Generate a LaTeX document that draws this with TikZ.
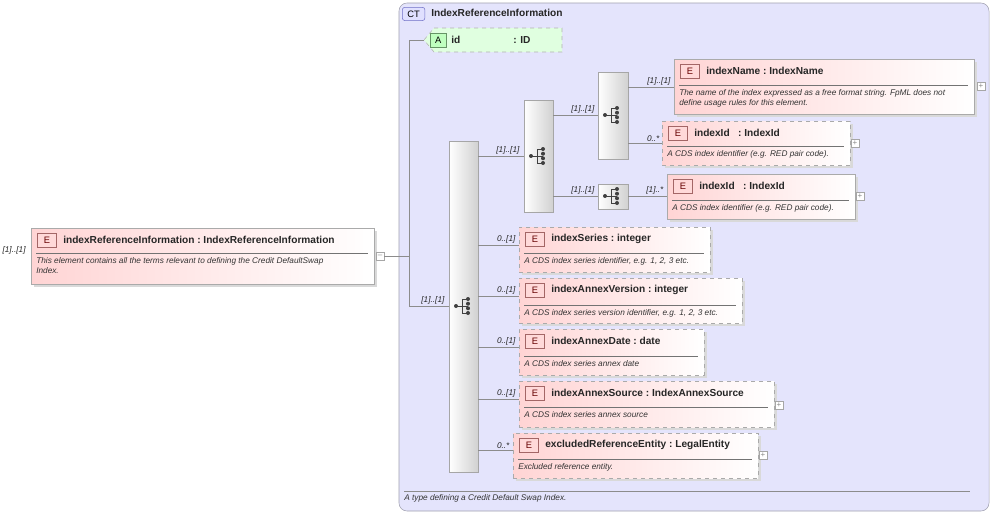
\documentclass[tikz,border=0pt]{standalone}
\usepackage{fontspec}
\setmainfont{Liberation Sans}
\usetikzlibrary{fit,calc}
\definecolor{ctbg}{RGB}{228,228,252}
\definecolor{ctbd}{RGB}{160,160,175}
\definecolor{pinkL}{RGB}{255,212,212}
\definecolor{ebd}{RGB}{170,170,170}
\tikzset{x=0.75pt,y=-0.75pt,
 elem/.style={draw=ebd,left color=pinkL,right color=white,inner sep=0pt},
 opt/.style={elem,dashed},
 badge/.style={draw=red!40!black!60,fill=red!15,text=red!40!black,font=\fontsize{7}{8}\selectfont,minimum width=14.5pt,minimum height=10.5pt,inner sep=0pt,anchor=north west},
 ttl/.style={font=\fontsize{7.6}{8}\bfseries\selectfont,text=black!85,anchor=west,inner sep=0pt},
 dsc/.style={font=\fontsize{6.2}{7.4}\itshape\selectfont,text=black!80,anchor=north west,inner sep=0pt,align=left},
 card/.style={font=\fontsize{6.2}{7}\itshape\selectfont,text=black!85,anchor=south east,inner sep=1pt},
 seq/.style={draw=black!35,left color=white,right color=black!18,inner sep=0pt},
 conn/.style={draw=black!45,line width=0.5pt},
 plusb/.style={draw=black!35,fill=white,minimum size=6pt,inner sep=0pt,font=\fontsize{6}{6}\selectfont,text=black!45}}
\newcommand\seqsym[1]{%
 \fill[black!75] ($(#1)+(-8,0)$) circle (2);
 \draw[black!75,line width=0.7pt] ($(#1)+(-8,0)$)--($(#1)+(-2,0)$) ($(#1)+(-2,-7)$)--($(#1)+(-2,7)$)
   ($(#1)+(-2,-7)$)--($(#1)+(4,-7)$) ($(#1)+(-2,0)$)--($(#1)+(4,0)$) ($(#1)+(-2,7)$)--($(#1)+(4,7)$);
 \foreach \yy in {-7,-2.3,2.3,7}{\fill[black!75] ($(#1)+(4,\yy)$) circle (2);}}
\newcommand\elbox[9]{%
 \fill[black!15] (#2+3,#3+3) rectangle (#4+3,#5+3);
 \node[#6,fit={(#2,#3)(#4,#5)}] (#1) {};
 \node[badge] at (#2+6,#3+5) {E};
 \node[ttl] at (#2+32,#3+12) {#7};
 \draw[black!55,line width=0.4pt] (#2+5,#8) -- (#4-6,#8);
 \node[dsc] at (#2+5,#8+4) {#9};}
\begin{document}
\begin{tikzpicture}
\useasboundingbox (0,0) rectangle (994,514);
\node[draw=ctbd,fill=ctbg,rounded corners=6pt,fit={(399,3)(989,511)},inner sep=0pt] (ct) {};
\node[draw=ctbd!70!blue,fill=blue!12,rounded corners=2pt,font=\fontsize{7}{8}\selectfont,minimum width=17pt,minimum height=10pt,inner sep=0pt,anchor=north west] (ctb) at (402,7) {CT};
\node[ttl] at (431,13) {IndexReferenceInformation};
\draw[black!45] (404,491) -- (970,491);
\node[dsc] at (404,494) {A type defining a Credit Default Swap Index.};
\draw[black!30,dashed,fill=green!12] (434,28) -- (562,28) -- (562,52) -- (434,52) -- (424,40) -- cycle;
\coordinate (attr) at (424,40);
\node[draw=green!30!black!60,fill=green!25,font=\fontsize{7}{8}\selectfont,minimum width=12pt,minimum height=10.5pt,inner sep=0pt,anchor=north west] at (430,33) {A};
\node[ttl] at (451,40) {id};
\node[ttl] at (513,40) {: ID};
\elbox{root}{31}{228}{374}{284}{elem}{indexReferenceInformation\ :\ IndexReferenceInformation}{253}{This element contains all the terms relevant to defining the Credit DefaultSwap\\Index.}
\node[card,anchor=west] at (1,250) {[1]..[1]};
\node[plusb] (rminus) at (380,256) {--};
\coordinate (j) at (409,256);
\draw[conn] (rminus.east) -- (j);
\draw[conn] (attr) -- (409,40) -- (409,306);
\node[seq,fit={(449,141)(478,472)}] (s1) {};
\node[seq,fit={(524,100)(553,212)}] (s2) {};
\node[seq,fit={(598,72)(628,159)}] (s3) {};
\node[seq,fit={(598,184)(628,209)}] (s4) {};
\seqsym{464,306} \seqsym{539,156} \seqsym{613,115} \seqsym{613,196}
\draw[conn] (409,306) -- (s1.west |- 0,306); \node[card] at (446,306) {[1]..[1]};
\draw[conn] (s1.east |- 0,156) -- (s2.west |- 0,156); \node[card] at (521,156) {[1]..[1]};
\draw[conn] (s2.east |- 0,115) -- (s3.west |- 0,115); \node[card] at (596,115) {[1]..[1]};
\draw[conn] (s2.east |- 0,196) -- (s4.west |- 0,196); \node[card] at (596,196) {[1]..[1]};
\elbox{iname}{674}{59}{974}{114}{elem}{indexName\ :\ IndexName}{85}{The name of the index expressed as a free format string. FpML does not\\define usage rules for this element.}
\elbox{iid1}{662}{121}{850}{165}{opt}{indexId\ \ \ :\ IndexId}{146}{A CDS index identifier (e.g. RED pair code).}
\elbox{iid2}{667}{174}{855}{219}{elem}{indexId\ \ \ :\ IndexId}{200}{A CDS index identifier (e.g. RED pair code).}
\draw[conn] (s3.east |- 0,87) -- (iname.west |- 0,87); \node[card] at (672,87) {[1]..[1]};
\draw[conn] (s3.east |- 0,143) -- (iid1.west |- 0,143); \node[card] at (661,143) {0..*};
\draw[conn] (s4.east |- 0,196) -- (iid2.west |- 0,196); \node[card] at (665,196) {[1]..*};
\node[plusb] at (981,86) {+};
\node[plusb] at (855,143) {+};
\node[plusb] at (860,196) {+};
\elbox{iser}{519}{227}{710}{272}{opt}{indexSeries\ :\ integer}{253}{A CDS index series identifier, e.g. 1, 2, 3 etc.}
\elbox{iver}{519}{278}{742}{323}{opt}{indexAnnexVersion\ :\ integer}{305}{A CDS index series version identifier, e.g. 1, 2, 3 etc.}
\elbox{idate}{519}{329}{704}{375}{opt}{indexAnnexDate\ :\ date}{356}{A CDS index series annex date}
\elbox{isrc}{519}{381}{774}{427}{opt}{indexAnnexSource\ :\ IndexAnnexSource}{407}{A CDS index series annex source}
\elbox{iexc}{513}{433}{758}{478}{opt}{excludedReferenceEntity\ :\ LegalEntity}{459}{Excluded reference entity.}
\draw[conn] (s1.east |- 0,245) -- (iser.west |- 0,245); \node[card] at (517,245) {0..[1]};
\draw[conn] (s1.east |- 0,296) -- (iver.west |- 0,296); \node[card] at (517,296) {0..[1]};
\draw[conn] (s1.east |- 0,347) -- (idate.west |- 0,347); \node[card] at (517,347) {0..[1]};
\draw[conn] (s1.east |- 0,399) -- (isrc.west |- 0,399); \node[card] at (517,399) {0..[1]};
\draw[conn] (s1.east |- 0,450) -- (iexc.west |- 0,450); \node[card] at (511,450) {0..*};
\node[plusb] at (779,405) {+};
\node[plusb] at (763,455) {+};
\end{tikzpicture}
\end{document}
